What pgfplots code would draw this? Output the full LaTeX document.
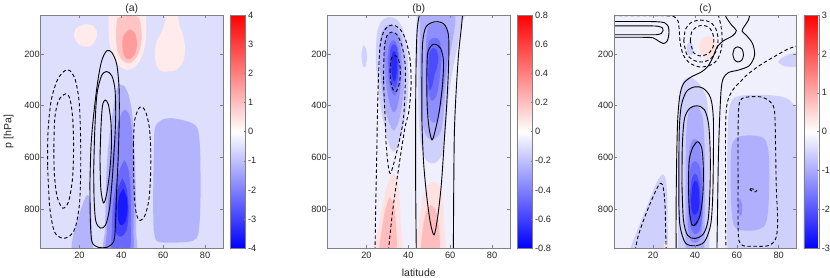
\documentclass[border=0pt]{standalone}
\usepackage{pgfplots}
\pgfplotsset{compat=1.18}
\usepackage{fontspec}
\setmainfont{Liberation Sans}
\definecolor{axgray}{RGB}{128,128,128}
\definecolor{txtgray}{RGB}{38,38,38}
\definecolor{aBG}{RGB}{222,222,253}
\definecolor{aB1}{RGB}{180,180,252}
\definecolor{aB2}{RGB}{142,142,254}
\definecolor{aB3}{RGB}{105,105,255}
\definecolor{aB4}{RGB}{65,65,255}
\definecolor{aB5}{RGB}{25,25,255}
\definecolor{aP1}{RGB}{255,235,235}
\definecolor{aP2}{RGB}{255,196,196}
\definecolor{aP3}{RGB}{255,155,155}
\definecolor{bBG}{RGB}{240,240,253}
\definecolor{bB1}{RGB}{208,208,253}
\definecolor{bB2}{RGB}{175,175,254}
\definecolor{bB3}{RGB}{142,142,254}
\definecolor{bB4}{RGB}{110,110,255}
\definecolor{bB5}{RGB}{75,75,255}
\definecolor{bB6}{RGB}{40,40,255}
\definecolor{bP1}{RGB}{255,225,225}
\definecolor{bP2}{RGB}{255,188,188}
\pgfplotsset{
  rg/.style={draw=none, fill=#1, smooth},
  cs/.style={draw=black, line width=0.9pt, smooth},
  cd/.style={draw=black, line width=0.9pt, smooth, dash pattern=on 3.5pt off 2.5pt},
  panel/.style={
    scale only axis, width=182.2pt, height=233.3pt,
    anchor=south west,
    xmin=1.5, xmax=88.5, ymin=50, ymax=950, y dir=reverse,
    xtick={20,40,60,80}, xticklabels={20,40,60,80},
    ytick={200,400,600,800}, yticklabels={200,400,600,800},
    tick align=inside, major tick length=3pt,
    axis line style={draw=axgray, line width=0.6pt},
    tick style={draw=axgray, line width=0.5pt},
    ticklabel style={font=\fontsize{9.2}{10}\selectfont, text=txtgray},
    xticklabel style={yshift=-0.5pt},
    yticklabel style={xshift=2.5pt},
    label style={font=\fontsize{10.5}{12}\selectfont, text=txtgray},
    title style={font=\fontsize{10.5}{12}\selectfont, text=txtgray, yshift=-4.8pt, inner sep=0pt},
    axis on top,
    colormap={bwr}{rgb255=(0,0,255) rgb255=(255,255,255) rgb255=(255,0,0)},
    colorbar,
  },
  cbar/.style={
    at={(parent axis.north east)}, anchor=north west, xshift=-1.1pt,
    scale only axis, width=15.3pt, height=233.3pt,
    ytick pos=right, tick align=inside, major tick length=2pt,
    axis line style={draw=axgray, line width=0.6pt},
    tick style={draw=axgray, line width=0.5pt},
    yticklabel style={font=\fontsize{9.2}{10}\selectfont, text=txtgray, xshift=-1pt},
  },
}
\begin{document}
\begin{tikzpicture}
\useasboundingbox (0,0) rectangle (830pt,278pt);
% ================= (a) =================
\begin{axis}[panel, at={(40.7pt,29.7pt)}, title={(a)}, ylabel={p [hPa]},
  ylabel style={yshift=4pt},
  axis background/.style={fill=aBG},
  point meta min=-4, point meta max=4,
  colorbar style={cbar, ytick={-4,-3,-2,-1,0,1,2,3,4}, yticklabels={-4,-3,-2,-1,0,1,2,3,4}}]
\addplot[rg=aB1] coordinates {(55.5,600)(55.8,500)(57,470)(60,452)(64,448)(69,455)(74,468)(76.5,490)(77.5,550)(77.8,650)(77.8,760)(77.3,860)(76,910)(72,925)(62,928)(57,922)(55.5,880)(55.2,760)(55.5,600)};
\addplot[rg=aB1] coordinates {(16,965)(17,900)(19.5,830)(22,770)(23.5,745)(24.8,752)(25.5,800)(26,880)(26.5,965)};
\addplot[rg=aB1] coordinates {(39,318)(41.5,325)(43.5,360)(45,420)(46,520)(46.6,640)(47,760)(47,880)(46.5,965)(32,965)(32.2,880)(32.5,760)(33,640)(34,540)(35.5,450)(36.5,390)(37.5,340)(39,318)};
\addplot[rg=aB2] coordinates {(42,415)(44,440)(45.3,520)(45.8,640)(46,760)(45.8,880)(45,965)(33,965)(33.2,880)(33.8,760)(34.8,640)(36.5,540)(38.5,470)(40.3,425)(42,415)};
\addplot[rg=aB3] coordinates {(41.5,610)(43.5,650)(44.5,740)(44.5,850)(43.8,960)(35.8,960)(35.5,870)(36,780)(37.5,700)(39.5,640)(41.5,610)};
\addplot[rg=aB4] coordinates {(40.5,680)(42.5,720)(43.5,800)(42.5,880)(39.5,905)(37,880)(36.8,800)(38,730)(40.5,680)};
\addplot[rg=aB5] coordinates {(41,720)(42.6,755)(43,800)(42,845)(40,862)(38.5,840)(38.4,780)(39.3,740)(41,720)};
\addplot[rg=aP1] coordinates {(23,85)(26.5,92)(28.5,115)(27.5,150)(24.5,172)(20,165)(17.5,135)(18.5,100)(23,85)};
\addplot[rg=aP1] coordinates {(34,30)(34,120)(34.8,180)(37,225)(40,252)(43,262)(46.5,250)(49.5,215)(51.5,160)(52,100)(51.5,30)};
\addplot[rg=aP1] coordinates {(61,30)(66.5,30)(67.5,80)(69.5,130)(70.5,180)(69.5,230)(66,262)(60,268)(57,250)(56,200)(57,150)(59.5,110)(61,70)(61,30)};
\addplot[rg=aP2] coordinates {(38,62)(43,50)(48,58)(49.5,100)(49.5,160)(47.5,210)(44,236)(40.5,225)(38,185)(37.5,120)(38,62)};
\addplot[rg=aP3] coordinates {(44,105)(46.5,120)(47.5,160)(46.5,200)(44,220)(41.5,210)(40.5,170)(41,130)(44,105)};
\addplot[cd] coordinates {(4.8,630)(5,500)(6.5,380)(9.5,300)(13,265)(15.5,265)(18,300)(19.8,380)(20.5,500)(20.6,650)(20,780)(18,870)(15,905)(11.5,910)(8,885)(5.8,790)(4.8,630)};
\addplot[cd] coordinates {(7.8,560)(8.2,450)(10,380)(13.5,354)(15.5,375)(16.8,450)(17.2,560)(16.7,680)(14.8,770)(12,795)(9.3,750)(8,660)(7.8,560)};
\addplot[cd] coordinates {(45.8,550)(46.3,460)(48,415)(49.5,404)(51.5,420)(53.3,480)(54,560)(54,660)(53.2,760)(51.2,825)(48.5,842)(46.8,800)(46,700)(45.8,550)};
\addplot[cs] coordinates {(25,700)(25.5,560)(26.6,450)(28.5,320)(30.5,230)(33,188)(35.5,195)(37.8,240)(38.9,330)(39,450)(38.5,600)(37.8,720)(37.3,840)(36.5,920)(33.5,945)(29,946)(26,925)(25.2,840)(25,700)};
\addplot[cs] coordinates {(26.8,650)(27.3,500)(28.3,360)(30.5,285)(33,268)(35.5,285)(37,340)(37.3,450)(36.5,580)(35.5,700)(34.3,800)(32.5,860)(30,872)(27.8,845)(27,760)(26.8,650)};
\addplot[cs] coordinates {(29.8,600)(30.3,480)(31,400)(32.3,378)(33.8,395)(35,460)(35.3,550)(34.5,650)(33,740)(31.5,775)(30.2,720)(29.8,600)};
\end{axis}
% ================= (b) =================
\begin{axis}[panel, at={(327.7pt,29.7pt)}, title={(b)}, xlabel={latitude},
  xlabel style={yshift=-3pt},
  axis background/.style={fill=bBG},
  point meta min=-0.8, point meta max=0.8,
  colorbar style={cbar, ytick={-0.8,-0.6,-0.4,-0.2,0,0.2,0.4,0.6,0.8}, yticklabels={-0.8,-0.6,-0.4,-0.2,0,0.2,0.4,0.6,0.8}}]
\addplot[rg=bB1] coordinates {(18.5,165)(19.8,180)(20.3,215)(19.5,250)(18.2,245)(17.6,205)(18.5,165)};
\addplot[rg=bB1] coordinates {(24.5,200)(25,120)(27,75)(30.5,58)(34,65)(37,95)(39,160)(40,250)(40,340)(39,420)(37,500)(35,555)(33,577)(31,555)(29,490)(27,420)(25.5,320)(24.6,250)(24.5,200)};
\addplot[rg=bB2] coordinates {(26,200)(26.8,130)(29,95)(31.5,88)(34.5,100)(36.8,140)(38,220)(38,320)(36.8,410)(35,470)(33,495)(31,470)(29,410)(27.2,320)(26,200)};
\addplot[rg=bB3] coordinates {(28.3,210)(29,150)(31,120)(33,117)(35,135)(36.5,190)(36.8,270)(36,350)(34.5,410)(32.8,425)(31,390)(29.5,320)(28.3,210)};
\addplot[rg=bB4] coordinates {(30,220)(31,165)(32.5,148)(34,155)(35.5,200)(35.8,270)(35,330)(33.5,360)(31.8,340)(30.5,290)(30,220)};
\addplot[rg=bB5] coordinates {(31,230)(31.5,180)(33,163)(34.5,175)(35.3,230)(35,290)(33.8,330)(32.3,315)(31.3,275)(31,230)};
\addplot[rg=bB6] coordinates {(31.8,240)(32.3,200)(33.3,190)(34.3,205)(34.6,250)(34,295)(33,305)(32.2,280)(31.8,240)};
\addplot[rg=bB1] coordinates {(44,40)(65.8,40)(65.5,80)(64,150)(62,230)(60,320)(58.5,420)(57.5,520)(56,590)(52.5,622)(48.5,610)(46,550)(45,450)(44.5,300)(44,150)(44,40)};
\addplot[rg=bB2] coordinates {(45.5,50)(47,42)(60,42)(62.5,60)(61.5,130)(59.5,220)(58,320)(57,420)(55.5,500)(52,530)(48.5,515)(46.5,450)(45.8,330)(45.5,200)(45.5,50)};
\addplot[rg=bB3] coordinates {(48.5,150)(49.5,95)(52.5,80)(56.5,88)(58.8,120)(59,200)(57.5,300)(56,390)(53.5,460)(50.5,455)(48.8,380)(48.2,260)(48.5,150)};
\addplot[rg=bB4] coordinates {(49,200)(50,150)(52.5,138)(55,150)(55.8,210)(55,290)(53.5,360)(51,380)(49.3,330)(49,200)};
\addplot[rg=bB5] coordinates {(50,200)(51.5,178)(53.5,185)(54.3,215)(53.8,250)(52.5,280)(51.5,320)(50.3,340)(49.5,300)(49.6,250)(50,200)};
\addplot[rg=bP1] coordinates {(32.5,660)(34.5,680)(35.8,750)(36.3,850)(36.5,965)(24,965)(25.5,880)(27.5,790)(30,700)(32.5,660)};
\addplot[rg=bP2] coordinates {(31,752)(33,780)(34,850)(34,965)(26.5,965)(27.5,870)(29,800)(31,752)};
\addplot[rg=bP1] coordinates {(51.5,692)(54.5,705)(56.5,760)(57,850)(57,965)(44.5,965)(45,860)(46.5,770)(48.5,715)(51.5,692)};
\addplot[rg=bP2] coordinates {(50.5,783)(53,800)(54.5,860)(54.5,965)(46.5,965)(47,870)(48.5,810)(50.5,783)};
\addplot[cd] coordinates {(24.1,960)(24.4,800)(24.9,600)(25.2,455)(25.7,300)(26.5,170)(28.5,110)(32,89)(35.5,100)(38.5,140)(40.8,220)(41.3,320)(40.3,420)(38.5,480)(36.5,580)(34.3,700)(32.3,820)(30.5,960)};
\addplot[cd] coordinates {(28.2,300)(28.5,180)(29.8,130)(32,116)(34.5,125)(37,170)(38.5,240)(38.5,330)(37.6,455)(35,560)(31.3,661)(29.5,560)(29,455)(28.5,380)(28.2,300)};
\addplot[cd] coordinates {(31.3,270)(31.6,225)(33,207)(35,215)(36.2,260)(35.8,310)(34.3,345)(32.5,335)(31.5,300)(31.3,270)};
\addplot[cs] coordinates {(45.5,40)(44.3,100)(43.8,200)(43.5,400)(43.5,700)(43.8,960)};
\addplot[cs] coordinates {(66,40)(65.3,100)(64,200)(62.8,350)(62,500)(61.7,700)(61.5,960)};
\addplot[cs] coordinates {(46.5,300)(46.8,160)(48.5,95)(52.8,76)(57,85)(59.2,130)(59.2,250)(58.3,400)(57.3,520)(55.8,700)(54,830)(52.3,898)(50.5,850)(48.8,750)(47.3,620)(46.5,460)(46.5,300)};
\addplot[cs] coordinates {(48.8,300)(49.2,200)(51,168)(53,163)(55.5,180)(56.8,230)(56.3,320)(54.8,420)(53,490)(51.3,532)(49.8,480)(49,400)(48.8,300)};
\end{axis}
% ================= (c) =================
\begin{axis}[panel, at={(614.3pt,29.7pt)}, title={(c)},
  axis background/.style={fill=bBG},
  point meta min=-3, point meta max=3,
  colorbar style={cbar, ytick={-3,-2,-1,0,1,2,3}, yticklabels={-3,-2,-1,0,1,2,3}}]
\addplot[rg=bB1] coordinates {(8.5,965)(11,910)(14.5,840)(18,770)(21.5,700)(23.5,672)(25,665)(26.2,690)(26.8,760)(27,860)(27.2,965)};
\addplot[rg=bP1] coordinates {(25.5,928)(26.5,925)(27.2,960)(25,960)(25.5,928)};
\addplot[rg=bB1] coordinates {(55.5,965)(55.3,800)(55.4,600)(55.8,460)(56.8,395)(59,368)(63,360)(70,358)(77,360)(82,366)(85.5,380)(88,405)(92,430)(92,965)};
\addplot[rg=bB2] coordinates {(57,650)(57.5,560)(59.5,525)(64,515)(70,517)(73.5,530)(75.2,580)(75.5,680)(75,800)(73.5,860)(69,880)(62,880)(58.5,860)(57.3,780)(57,650)};
\addplot[rg=bB3] coordinates {(61.5,760)(62.5,780)(62.5,815)(61.5,825)(60.7,800)(60.8,770)(61.5,760)};
\addplot[rg=bB1] coordinates {(79.7,232)(81,218)(84,205)(87,198)(92,195)(92,245)(86,250)(82,246)(79.7,232)};
\addplot[rg=bB1] coordinates {(32,965)(32,800)(32.2,600)(32.5,450)(33,350)(34.5,305)(37,290)(40,300)(43,325)(45.5,370)(46.5,450)(47,600)(47,800)(46.8,965)};
\addplot[rg=bB2] coordinates {(35.5,965)(35.5,700)(35.8,520)(36.8,430)(39,400)(41.5,405)(43.5,440)(44.5,530)(44.8,700)(44.5,965)};
\addplot[rg=bB3] coordinates {(36.5,800)(36.8,620)(38,545)(40,528)(42,545)(43.3,620)(43.8,750)(43.3,880)(41.5,925)(38.5,925)(36.8,880)(36.5,800)};
\addplot[rg=bB4] coordinates {(37,760)(37.5,660)(38.8,620)(40.5,615)(42.5,640)(43.5,720)(43.5,820)(42.3,880)(40,895)(38,870)(37.2,820)(37,760)};
\addplot[rg=bB5] coordinates {(37.6,760)(38.3,690)(39.5,665)(41,670)(42.3,710)(42.8,780)(42,840)(40.3,865)(38.5,845)(37.7,800)(37.6,760)};
\addplot[rg=bB6] coordinates {(38.2,760)(38.8,710)(40,690)(41.3,700)(42,740)(42,790)(41,815)(39.5,820)(38.4,800)(38.2,760)};
\addplot[rg=bB1] coordinates {(37.5,153)(38.8,165)(39.3,185)(38.6,204)(37,203)(36.1,185)(36.5,162)(37.5,153)};
\addplot[rg=bP1] coordinates {(46,131)(49,140)(50.4,170)(49.5,200)(46.5,216)(43.5,210)(42.1,185)(42.5,155)(44,138)(46,131)};
% contours
\addplot[cs] coordinates {(-5,75)(15,75)(22,76)(25.5,80)(27.3,95)(27.6,120)(26.8,150)(25,160)(22.5,150)(20,138)(15,136)(-5,136)};
\addplot[cs] coordinates {(-5,92)(15,92)(22,93)(24.5,100)(24.8,110)(24,121)(21.5,126)(15,126)(-5,126)};
\addplot[cd] coordinates {(-5,53)(15,53)(26,53)(30,56)(32,75)(32.5,110)(33,160)(34.5,205)(37.5,235)(42,250)(47,245)(50.5,225)(52.5,185)(53,140)(52.5,95)(51.5,60)(51,40)};
\addplot[cd] coordinates {(34.7,150)(35.5,105)(38,80)(42,70)(46.5,75)(49.5,95)(51,135)(50.5,180)(48,215)(44,231)(39.5,225)(36,200)(34.7,150)};
\addplot[cd] coordinates {(37.8,150)(38.5,115)(41,95)(44,90)(47,100)(48.8,130)(48.8,170)(46.5,198)(42.5,208)(39.3,195)(37.8,150)};
\addplot[cs] coordinates {(54,40)(55,60)(57.6,90)(59.8,110)(58,130)(53.5,150)(50.5,175)(48.5,215)(46,250)(43,270)(38,290)(34.5,315)(32.8,360)(31.8,450)(31.3,600)(31,800)(31,960)};
\addplot[cs] coordinates {(66.4,40)(65.5,70)(63.5,95)(62.5,112)(64.5,128)(67.5,160)(68.5,205)(66,245)(61,262)(56,272)(53.5,295)(52.5,340)(51.8,450)(51.2,600)(50.8,800)(50.5,960)};
\addplot[cs] coordinates {(58.1,202)(58.8,180)(60.5,173)(62.5,182)(63.2,205)(62.3,225)(60.5,231)(58.8,222)(58.1,202)};
\addplot[cs] coordinates {(32.3,700)(32.5,500)(33.5,400)(36,345)(40,327)(44,333)(47.5,370)(48.8,450)(48.8,600)(48.5,750)(47.5,860)(44.5,925)(40,940)(35.5,930)(33,870)(32.4,800)(32.3,700)};
\addplot[cs] coordinates {(33.8,700)(34,550)(35,450)(37.5,410)(41,400)(44.5,415)(46.5,470)(47.3,580)(47.2,720)(46.3,840)(44,895)(40,912)(36.5,900)(34.5,840)(33.8,700)};
\addplot[cs] coordinates {(36.9,700)(37.3,610)(39,560)(41.4,539)(43.3,565)(44,640)(43.8,740)(42.5,820)(40.5,855)(38.6,860)(37.3,800)(36.9,700)};
\addplot[cd] coordinates {(95,150)(88.6,170)(84.7,180)(78,210)(71,244)(65,280)(61.6,308)(58,340)(55.5,386)(54.7,460)(54.6,600)(54.6,800)(54.8,960)};
\addplot[cd] coordinates {(60.6,700)(60.6,500)(61,400)(62.5,372)(67,365)(72,367)(76,385)(78,420)(78.5,550)(78.8,700)(79.5,850)(78.5,915)(75,940)(68,942)(63,940)(61,920)(60.6,850)(60.6,700)};
\addplot[cd] coordinates {(66.5,720)(68,722)(69.5,727)(69,732)(67.5,730)(66.3,724)(66.5,720)};
\addplot[cd] coordinates {(11.4,960)(13,900)(16,830)(19,770)(21.5,725)(23.3,700)(24.5,705)(25.3,740)(25.8,800)(26,880)(26.3,960)};
\end{axis}
\end{tikzpicture}
\end{document}
